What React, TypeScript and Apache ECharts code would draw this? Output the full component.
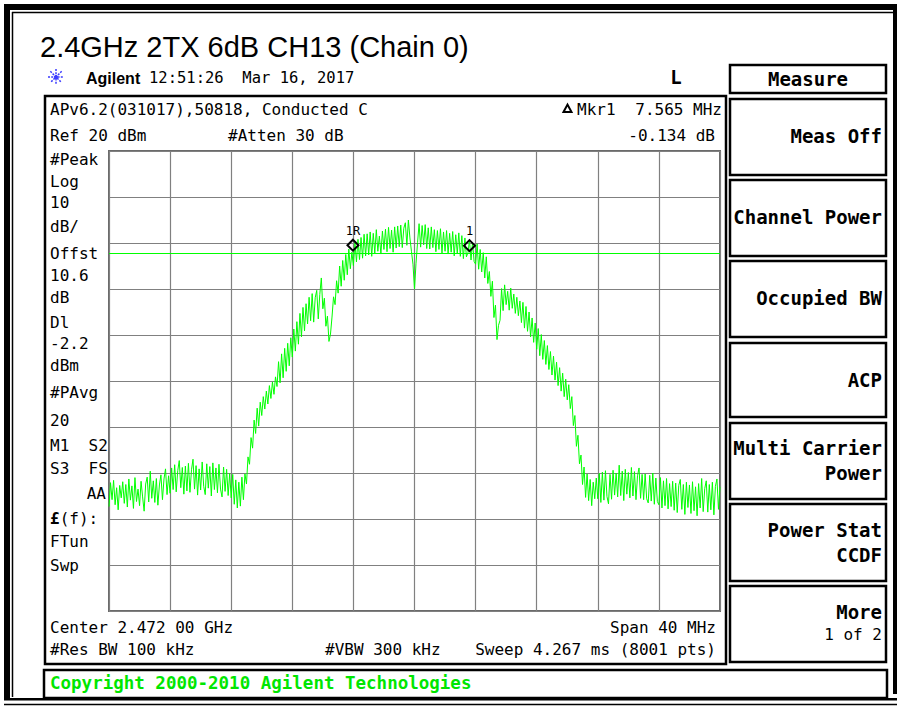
import React, { useEffect, useRef } from 'react';
import * as echarts from 'echarts';

// ---------------- data ----------------
const TITLE = '2.4GHz 2TX 6dB CH13 (Chain 0)';
const START_MHZ = 2452;
const STOP_MHZ = 2492;
const STEP_MHZ = 0.1;
const FREQ_DIV_MHZ = 4;
const REF_DBM = 20;
const BOTTOM_DBM = -80;
const DB_PER_DIV = 10;
const DISPLAY_LINE_DBM = -2.2;

const MARKER_NAMES = ['1R', '1'];
const MARKER_FREQS = [2467.97, 2475.6];
const MARKER_LEVELS = [-2.0, -2.1];

// trace, one row per MHz (0.1 MHz steps) from 2452 MHz
const TRACE_DBM = [
  -57.3, -52.1, -55.8, -51.6, -56.9, -53.2, -58.0, -52.7, -55.4, -51.9,
  -56.6, -52.5, -57.4, -51.3, -55.9, -52.8, -57.7, -51.0, -56.2, -53.5,
  -57.1, -51.8, -55.2, -58.3, -52.4, -50.9, -56.3, -49.6, -55.5, -51.7,
  -56.4, -51.2, -57.0, -52.6, -50.4, -55.8, -51.3, -49.1, -54.7, -50.6,
  -54.4, -48.9, -53.6, -48.2, -54.1, -49.5, -47.3, -53.2, -48.8, -54.6,
  -48.5, -53.9, -47.9, -54.2, -49.3, -47.0, -53.5, -48.4, -54.8, -49.1,
  -53.7, -47.6, -52.9, -54.7, -48.0, -53.3, -48.6, -55.0, -47.8, -53.6,
  -48.9, -54.3, -48.1, -53.5, -55.2, -48.7, -54.0, -49.2, -54.9, -50.1,
  -55.4, -50.3, -56.8, -51.5, -57.6, -52.0, -57.2, -50.9, -55.8, -50.2,
  -52.4, -46.5, -48.1, -42.3, -44.6, -38.5, -41.4, -35.9, -39.8, -34.6,
  -37.5, -33.4, -36.1, -32.2, -35.0, -31.0, -33.8, -30.2, -32.9, -29.1,
  -31.2, -25.8, -30.4, -24.1, -29.3, -22.9, -27.9, -21.8, -26.7, -20.6,
  -24.8, -18.7, -23.5, -17.1, -22.0, -15.3, -20.4, -14.0, -19.1, -13.2,
  -17.6, -11.8, -16.9, -11.0, -17.2, -11.9, -10.3, -16.5, -11.2, -7.6,
  -14.3, -12.0, -18.1, -15.9, -21.4, -19.8, -16.1, -11.7, -13.4, -8.2,
  -10.9, -5.0, -9.4, -3.8, -8.1, -2.5, -6.9, -1.3, -5.6, -2.0,
  -4.9, 0.1, -4.1, 0.8, -3.6, 1.2, -3.3, 1.9, -2.8, 2.0,
  -2.6, 2.4, -2.9, 2.1, -2.2, 2.9, -1.8, 1.5, -2.4, 2.6,
  -1.4, 3.0, -1.9, 3.4, -1.2, 2.8, -2.0, 3.5, -1.1, 3.7,
  -0.8, 3.9, -1.0, 3.2, 4.4, -0.5, 5.0, 1.1, -1.8, -4.6,
  -10.0, -4.4, 0.1, 4.2, -0.9, 3.8, -0.4, 4.0, -1.2, 3.3,
  -1.3, 3.5, -1.0, 2.9, -1.9, 2.7, -1.4, 3.1, -2.2, 2.4,
  -1.8, 2.7, -2.4, 2.1, -2.0, 2.5, -2.8, 1.8, -2.3, 2.2,
  -2.9, 1.6, -3.4, 1.1, -3.0, -2.1, 0.6, -3.7, 0.2, -4.0,
  -4.6, -0.2, -5.7, -1.4, -6.3, -2.1, -7.6, -3.0, -8.8, -6.2,
  -11.6, -8.3, -16.2, -13.5, -21.0, -17.9, -16.8, -9.9, -14.7, -9.1,
  -13.4, -10.5, -14.6, -9.8, -14.2, -11.1, -15.3, -11.8, -15.8, -12.6,
  -17.3, -12.9, -18.5, -13.8, -19.2, -15.0, -20.4, -16.3, -21.6, -17.4,
  -23.1, -18.6, -24.5, -19.9, -25.3, -21.2, -26.4, -22.3, -27.5, -23.6,
  -28.7, -24.6, -29.8, -25.9, -31.0, -27.1, -32.2, -28.3, -33.4, -29.6,
  -34.1, -30.8, -36.0, -33.4, -39.7, -37.5, -44.2, -41.8, -48.0, -46.1,
  -52.5, -48.7, -55.3, -50.2, -56.0, -51.4, -57.1, -52.0, -55.6, -51.1,
  -55.6, -50.1, -56.4, -49.8, -55.9, -49.5, -55.1, -56.7, -50.3, -55.7,
  -49.4, -54.8, -50.0, -55.2, -48.3, -54.9, -49.6, -56.0, -49.2, -54.6,
  -49.9, -55.4, -48.8, -55.0, -49.7, -55.8, -50.6, -48.9, -55.5, -50.3,
  -55.8, -50.2, -55.6, -56.5, -50.5, -56.1, -50.0, -56.8, -51.1, -56.2,
  -56.9, -51.0, -57.6, -51.7, -57.1, -51.2, -57.8, -52.3, -57.3, -51.8,
  -58.1, -52.2, -58.6, -52.7, -51.4, -57.9, -52.5, -59.0, -52.0, -57.5,
  -52.6, -58.8, -51.9, -58.2, -53.0, -59.3, -52.3, -57.6, -51.2, -58.4,
  -53.4, -51.7, -58.5, -52.5, -58.0, -52.0, -59.1, -52.9, -51.3, -57.9,
  -53.0,
];

const HEADER_TIME = '12:51:26  Mar 16, 2017';
const HEADER_ID = 'APv6.2(031017),50818, Conducted C';
const MKR_READOUT_FREQ = '7.565 MHz';
const MKR_READOUT_LEVEL = '-0.134 dB';
const REF_TEXT = 'Ref 20 dBm';
const ATTEN_TEXT = '#Atten 30 dB';
const SIDE_LABELS = ['#Peak', 'Log', '10', 'dB/', 'Offst', '10.6', 'dB', 'Dl', '-2.2', 'dBm', '#PAvg', '20', 'M1  S2', 'S3  FS'];
const CENTER_TEXT = 'Center 2.472 00 GHz';
const SPAN_TEXT = 'Span 40 MHz';
const RBW_TEXT = '#Res BW 100 kHz';
const VBW_TEXT = '#VBW 300 kHz';
const SWEEP_TEXT = 'Sweep 4.267 ms (8001 pts)';
const COPYRIGHT = 'Copyright 2000-2010 Agilent Technologies';
const MENU_TITLE = 'Measure';
const MENU_KEYS = [['Meas Off'], ['Channel Power'], ['Occupied BW'], ['ACP'], ['Multi Carrier', 'Power'], ['Power Stat', 'CCDF'], ['More', '1 of 2']];

// ---------------- component ----------------
export default function App() {
  const ref = useRef<HTMLDivElement>(null);

  useEffect(() => {
    const chart = echarts.init(ref.current!, null, { renderer: 'svg' });
    const mono = '"DejaVu Sans Mono", "Liberation Mono", monospace';
    const sans = '"Liberation Sans", Arial, sans-serif';
    const GREEN = '#00ff00';

    const txt = (x: number, y: number, text: string, o: any = {}) => ({
      type: 'text',
      x,
      y,
      silent: true,
      style: {
        text,
        font: `${o.weight || 'normal'} ${o.size || 16}px ${o.family || mono}`,
        fill: o.color || '#000',
        align: o.align || 'left',
        verticalAlign: 'middle',
        rich: o.rich,
      },
    });
    const box = (x: number, y: number, w: number, h: number, lw = 2) => ({
      type: 'rect',
      silent: true,
      shape: { x, y, width: w, height: h },
      style: { fill: 'rgba(0,0,0,0)', stroke: '#000', lineWidth: lw },
    });
    const fillRect = (x: number, y: number, w: number, h: number) => ({
      type: 'rect',
      silent: true,
      shape: { x, y, width: w, height: h },
      style: { fill: '#000' },
    });
    const ln = (x1: number, y1: number, x2: number, y2: number, lw = 1, color = '#000', dash?: number[]) => ({
      type: 'line',
      silent: true,
      shape: { x1, y1, x2, y2 },
      style: { stroke: color, lineWidth: lw, lineDash: dash },
    });

    const graphics: any[] = [];
    // outer frame
    graphics.push(fillRect(4, 4, 893, 6));
    graphics.push(ln(12, 12.5, 897, 12.5, 1.5));
    graphics.push(fillRect(4, 4, 6, 694));
    graphics.push(ln(12.5, 12, 12.5, 697, 1.5));
    graphics.push(fillRect(893, 4, 4, 690));
    graphics.push(fillRect(4, 698, 893, 2.5));
    graphics.push(ln(4, 704.5, 897, 704.5, 1.5));

    // title
    graphics.push(txt(40, 47, TITLE, { size: 29, family: sans }));

    // Agilent logo
    const cx = 56, cy = 77, r = 8;
    for (let k = 0; k < 4; k++) {
      const a = (k * Math.PI) / 4;
      graphics.push(ln(cx - r * Math.cos(a), cy - r * Math.sin(a), cx + r * Math.cos(a), cy + r * Math.sin(a), 1.5, '#3a3aff', [2, 1.2]));
    }
    graphics.push({ type: 'circle', silent: true, shape: { cx, cy, r: 2 }, style: { fill: '#3a3aff' } });
    graphics.push(txt(86, 78, 'Agilent', { size: 16, family: sans, weight: 'bold' }));
    graphics.push(txt(149, 78, HEADER_TIME, { size: 15.5 }));
    graphics.push(txt(676, 77, 'L', { size: 19, weight: 'bold', align: 'center' }));

    // menu title
    graphics.push(box(730, 65, 156, 28, 2.5));
    graphics.push(txt(808, 79, MENU_TITLE, { size: 19, weight: 'bold', align: 'center' }));

    // main frame
    graphics.push(box(45, 96, 681, 568, 2.5));
    graphics.push(txt(50, 109, HEADER_ID));
    graphics.push({
      type: 'polygon',
      silent: true,
      shape: { points: [[563.5, 112], [567.5, 104.5], [571.5, 112]] },
      style: { fill: '#fff', stroke: '#000', lineWidth: 2 },
    });
    graphics.push(txt(577, 109, 'Mkr1'));
    graphics.push(txt(722, 109, MKR_READOUT_FREQ, { align: 'right' }));
    graphics.push(txt(50, 135, REF_TEXT));
    graphics.push(txt(228, 135, ATTEN_TEXT));
    graphics.push(txt(715, 135, MKR_READOUT_LEVEL, { align: 'right' }));

    const sideY = [159, 181, 202, 226, 253, 275, 297, 322, 343, 365, 392, 420, 445, 468];
    SIDE_LABELS.forEach((s, i) => graphics.push(txt(50, sideY[i], s)));
    graphics.push(txt(106, 493, 'AA', { align: 'right' }));
    graphics.push(
      txt(50, 518, '{b|£}(f):', {
        rich: { b: { font: `bold 16px ${mono}`, fill: '#000' } },
      })
    );
    graphics.push(txt(50, 541, 'FTun'));
    graphics.push(txt(50, 565, 'Swp'));

    graphics.push(txt(50, 627, CENTER_TEXT));
    graphics.push(txt(716, 627, SPAN_TEXT, { align: 'right' }));
    graphics.push(txt(50, 649, RBW_TEXT));
    graphics.push(txt(325, 649, VBW_TEXT));
    graphics.push(txt(716, 649, SWEEP_TEXT, { align: 'right' }));

    // copyright
    graphics.push(box(44, 670, 843, 28, 2.5));
    graphics.push(txt(50, 683, COPYRIGHT, { size: 17.5, weight: 'bold', color: '#00e600' }));

    // soft keys
    const keyBoxes = [[99, 175], [180, 256], [261, 337], [343, 417], [423, 499], [504, 581], [586, 662]];
    const keyTextY = [[136], [217], [298], [380], [448, 473], [530, 555], [612, 634]];
    MENU_KEYS.forEach((lines, i) => {
      const [t, b] = keyBoxes[i];
      graphics.push(box(730, t, 156, b - t, 2.5));
      lines.forEach((s, j) => {
        const normal = i === MENU_KEYS.length - 1 && j === 1;
        graphics.push(txt(882, keyTextY[i][j], s, { size: normal ? 16 : 19, weight: normal ? 'normal' : 'bold', align: 'right' }));
      });
    });

    const traceData = TRACE_DBM.map((v, i) => [START_MHZ + i * STEP_MHZ, v]);

    const gridLine = { show: true, lineStyle: { color: '#808080', width: 1.2 } };

    chart.setOption({
      animation: false,
      backgroundColor: '#ffffff',
      grid: {
        left: 109,
        top: 151,
        width: 611,
        height: 460,
        show: true,
        borderColor: '#6a6a6a',
        borderWidth: 2,
        backgroundColor: 'rgba(0,0,0,0)',
      },
      xAxis: {
        type: 'value',
        min: START_MHZ,
        max: STOP_MHZ,
        interval: FREQ_DIV_MHZ,
        axisLabel: { show: false },
        axisTick: { show: false },
        axisLine: { show: false },
        splitLine: gridLine,
      },
      yAxis: {
        type: 'value',
        min: BOTTOM_DBM,
        max: REF_DBM,
        interval: DB_PER_DIV,
        axisLabel: { show: false },
        axisTick: { show: false },
        axisLine: { show: false },
        splitLine: gridLine,
      },
      series: [
        {
          type: 'line',
          data: traceData,
          showSymbol: false,
          symbol: 'none',
          silent: true,
          lineStyle: { color: GREEN, width: 1 },
          z: 3,
          markLine: {
            silent: true,
            symbol: ['none', 'none'],
            label: { show: false },
            lineStyle: { color: GREEN, width: 1, type: 'solid' },
            data: [{ yAxis: DISPLAY_LINE_DBM }],
          },
          markPoint: {
            silent: true,
            symbol: 'diamond',
            symbolSize: [11, 11],
            symbolOffset: [0, -7],
            itemStyle: { color: 'rgba(255,255,255,0)', borderColor: '#000', borderWidth: 2 },
            label: {
              show: true,
              position: 'top',
              distance: 2,
              formatter: '{b}',
              color: '#000',
              fontFamily: mono,
              fontSize: 12,
            },
            data: MARKER_NAMES.map((n, i) => ({ name: n, coord: [MARKER_FREQS[i], MARKER_LEVELS[i]] })),
          },
        },
      ],
      graphic: graphics,
    });

    return () => chart.dispose();
  }, []);

  return (
    <div
      ref={ref}
      style={{ position: 'fixed', left: 0, top: 0, width: 897, height: 706, background: '#fff' }}
    />
  );
}
